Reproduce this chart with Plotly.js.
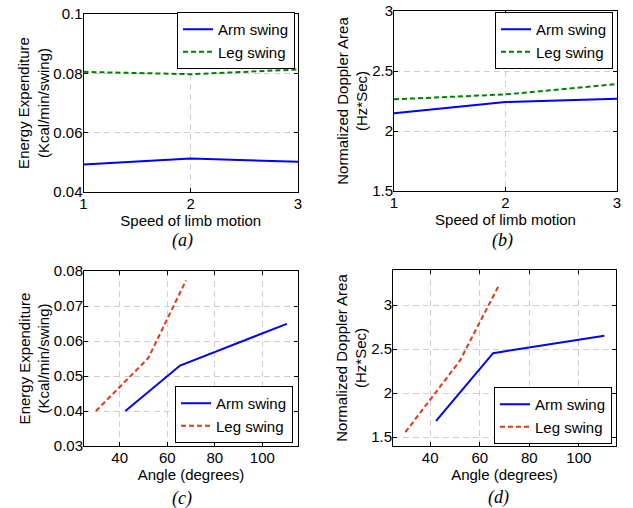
<!DOCTYPE html>
<html>
<head>
<meta charset="utf-8">
<script src="https://cdn.plot.ly/plotly-3.0.1.min.js"></script>
<style>html,body{margin:0;padding:0;background:#fff;}#chart{width:633px;height:508px;}</style>
</head>
<body>
<div id="chart"></div>
<script>
// Panel (a) & (b): speed of limb motion
const speed = [1, 2, 3];
const energyArmSpeed = [0.0493, 0.0513, 0.0502];
const energyLegSpeed = [0.0805, 0.0797, 0.0813];
const dopplerArmSpeed = [2.148, 2.242, 2.269];
const dopplerLegSpeed = [2.264, 2.305, 2.391];

// Panel (c) & (d): angle
const angleArm = [42.4, 65.4, 110.3];
const angleLeg = [30.0, 52.0, 67.9];
const energyArmAngle = [0.0400, 0.0530, 0.0649];
const energyLegAngle = [0.0400, 0.0551, 0.0773];
const dopplerArmAngle = [1.686, 2.455, 2.652];
const dopplerLegAngle = [1.557, 2.370, 3.235];

const seriesNames = ['Arm swing', 'Leg swing'];
const captions = ['(a)', '(b)', '(c)', '(d)'];
const xTitles = ['Speed of limb motion', 'Speed of limb motion', 'Angle (degrees)', 'Angle (degrees)'];
const yTitles = ['Energy Expenditure<br>(Kcal/min/swing)', 'Normalized Doppler Area<br>(Hz*Sec)',
                 'Energy Expenditure<br>(Kcal/min/swing)', 'Normalized Doppler Area<br>(Hz*Sec)'];

const BLUE = '#0000ff', GREEN = '#008000', RED = '#dc3a14';
const FONT = 'Liberation Sans, Arial, Helvetica, sans-serif';

function tr(x, y, name, color, dash, ax, lg) {
  return {x: x, y: y, name: name, type: 'scatter', mode: 'lines',
    line: {color: color, width: 2, dash: dash},
    xaxis: ax[0], yaxis: ax[1], legend: lg, showlegend: true};
}
const data = [
  tr(speed, energyArmSpeed, seriesNames[0], BLUE, 'solid', ['x', 'y'], 'legend'),
  tr(speed, energyLegSpeed, seriesNames[1], GREEN, '5px,3px', ['x', 'y'], 'legend'),
  tr(speed, dopplerArmSpeed, seriesNames[0], BLUE, 'solid', ['x2', 'y2'], 'legend2'),
  tr(speed, dopplerLegSpeed, seriesNames[1], GREEN, '5px,3px', ['x2', 'y2'], 'legend2'),
  tr(angleArm, energyArmAngle, seriesNames[0], BLUE, 'solid', ['x3', 'y3'], 'legend3'),
  tr(angleLeg, energyLegAngle, seriesNames[1], RED, '5px,3px', ['x3', 'y3'], 'legend3'),
  tr(angleArm, dopplerArmAngle, seriesNames[0], BLUE, 'solid', ['x4', 'y4'], 'legend4'),
  tr(angleLeg, dopplerLegAngle, seriesNames[1], RED, '5px,3px', ['x4', 'y4'], 'legend4')
];

const W = 633, H = 508;
function px(a, b) { return [a / W, b / W]; }
function py(top, bottom) { return [1 - bottom / H, 1 - top / H]; }

function axBase(extra) {
  return Object.assign({
    showline: true, mirror: 'ticks', linecolor: '#000', linewidth: 1,
    ticks: 'inside', ticklen: 4, tickcolor: '#000', tickwidth: 1,
    showgrid: true, gridcolor: '#cfcfcf', gridwidth: 1, griddash: '6px,4px',
    zeroline: false, tickfont: {family: FONT, size: 15, color: '#000'},
    fixedrange: true
  }, extra);
}
function xt(i) { return {text: xTitles[i], font: {family: FONT, size: 15, color: '#000'}, standoff: 1}; }
function yt(i) { return {text: yTitles[i], font: {family: FONT, size: 15, color: '#000'}, standoff: 0}; }

function legendBox(x, y, yanchor) {
  return {x: x, y: y, xanchor: 'right', yanchor: yanchor, bgcolor: '#fff',
    bordercolor: '#000', borderwidth: 1, font: {family: FONT, size: 15, color: '#000'},
    tracegroupgap: 0, itemwidth: 30, traceorder: 'normal'};
}

const layout = {
  width: W, height: H, margin: {l: 0, r: 0, t: 0, b: 0},
  paper_bgcolor: '#fff', plot_bgcolor: '#fff', showlegend: true,
  xaxis: axBase({domain: px(83.5, 298), anchor: 'y', range: [1, 3], tickvals: speed, title: xt(0), ticklabelstandoff: -2}),
  yaxis: axBase({domain: py(14, 192), anchor: 'x', range: [0.04, 0.1], dtick: 0.02, tick0: 0.04, title: yt(0), ticklabelstandoff: -3}),
  xaxis2: axBase({domain: px(394, 617), anchor: 'y2', range: [1, 3], tickvals: speed, title: xt(1), ticklabelstandoff: -2}),
  yaxis2: axBase({domain: py(11, 191), anchor: 'x2', range: [1.5, 3], dtick: 0.5, tick0: 1.5, title: yt(1), ticklabelstandoff: -3}),
  xaxis3: axBase({domain: px(84, 298), anchor: 'y3', range: [25, 115], dtick: 20, tick0: 40, title: xt(2), ticklabelstandoff: -2}),
  yaxis3: axBase({domain: py(271, 446), anchor: 'x3', range: [0.03, 0.08], dtick: 0.01, tick0: 0.03, title: yt(2), ticklabelstandoff: -3}),
  xaxis4: axBase({domain: px(393, 616), anchor: 'y4', range: [25, 115], dtick: 20, tick0: 40, title: xt(3), ticklabelstandoff: -2}),
  yaxis4: axBase({domain: py(270, 446), anchor: 'x4', range: [1.4, 3.4], dtick: 0.5, tick0: 1.5, title: yt(3), ticklabelstandoff: -3}),
  legend: legendBox(295 / W, 1 - 12 / H, 'top'),
  legend2: legendBox(613 / W, 1 - 12 / H, 'top'),
  legend3: legendBox(293 / W, 1 - 443 / H, 'bottom'),
  legend4: legendBox(612 / W, 1 - 444 / H, 'bottom'),
  annotations: [
    [182, 240], [503, 240], [182, 498], [498, 497]
  ].map(function (p, i) {
    return {text: captions[i], xref: 'paper', yref: 'paper', x: p[0] / W, y: 1 - p[1] / H,
      xanchor: 'center', yanchor: 'middle', showarrow: false,
      font: {family: 'Liberation Serif, Times New Roman, serif', size: 18, color: '#000', style: 'italic'}};
  })
};

Plotly.newPlot('chart', data, layout, {displayModeBar: false, staticPlot: true});
</script>
</body>
</html>
